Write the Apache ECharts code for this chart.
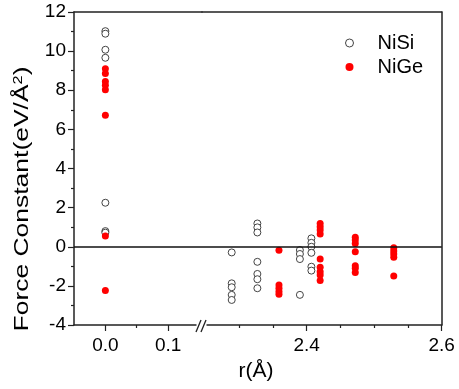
<!DOCTYPE html>
<html>
<head>
<meta charset="utf-8">
<script src="https://cdn.jsdelivr.net/npm/echarts@6/dist/echarts.min.js"></script>
<style>
  html, body { margin: 0; padding: 0; background: #fff; }
  #chart { width: 459px; height: 389px; }
</style>
</head>
<body>
<div id="chart"></div>
<script>
// values
const niSiAtZero = [11.02, 10.89, 10.07, 9.66, 2.25, 0.8, 0.72];
const niGeAtZero = [9.1, 8.85, 8.45, 8.25, 8.03, 6.72, 0.55, -2.24];

const niSiR = [2.289, 2.327, 2.39, 2.407];
const niSiF = [
    [-0.29, -1.87, -2.07, -2.46, -2.72],
    [1.19, 0.99, 0.73, -0.77, -1.39, -1.66, -2.12],
    [-0.17, -0.37, -0.63, -2.46],
    [0.43, 0.2, 0.0, -0.31, -1.02, -1.22]
];
const niGeR = [2.359, 2.42, 2.472, 2.529];
const niGeF = [
    [-0.18, -1.95, -2.12, -2.29, -2.43],
    [1.19, 1.02, 0.85, 0.65, -0.63, -1.05, -1.28, -1.44, -1.73],
    [0.48, 0.34, 0.17, -0.26, -0.97, -1.1, -1.31],
    [-0.05, -0.22, -0.37, -0.54, -1.49]
];

const leftMajor = [0, 0.1];
const leftMinor = [0.05];
const rightMajor = [2.4, 2.6];
const rightMinor = [2.3, 2.35, 2.45, 2.5, 2.55];

const font = 'Liberation Sans, Arial, Helvetica, sans-serif';
const axisColor = '#222';

// build point lists
const toPairs = (rs, fs) => {
    const out = [];
    rs.forEach((r, i) => fs[i].forEach(f => out.push([r, f])));
    return out;
};
const niSiLeft = niSiAtZero.map(f => [0, f]);
const niGeLeft = niGeAtZero.map(f => [0, f]);
const niSiRight = toPairs(niSiR, niSiF);
const niGeRight = toPairs(niGeR, niGeF);

const openStyle = { color: '#fff', borderColor: '#444', borderWidth: 1, opacity: 1 };
const redStyle = { color: '#ff0000', opacity: 1 };

const zeroLine = {
    silent: true,
    symbol: 'none',
    label: { show: false },
    lineStyle: { color: '#111', width: 1.5, type: 'solid' },
    data: [{ yAxis: 0 }]
};

const bottomAxis = (grid, min, max, major) => ({
    type: 'value', gridIndex: grid, min: min, max: max, position: 'bottom',
    axisLine: { show: true, onZero: false, lineStyle: { color: axisColor, width: 1.5 } },
    axisTick: { show: true, inside: false, length: 6, customValues: major,
        lineStyle: { color: axisColor, width: 1.2 } },
    axisLabel: { show: true, customValues: major, formatter: v => v.toFixed(1),
        fontSize: 19, color: '#000', fontFamily: font, margin: 11 },
    splitLine: { show: false }
});
const minorAxis = (grid, min, max, minor) => ({
    type: 'value', gridIndex: grid, min: min, max: max, position: 'bottom',
    axisLine: { show: false, onZero: false },
    axisTick: { show: true, inside: false, length: 3, customValues: minor,
        lineStyle: { color: axisColor, width: 1.2 } },
    axisLabel: { show: false },
    splitLine: { show: false }
});
const topAxis = (grid, min, max) => ({
    type: 'value', gridIndex: grid, min: min, max: max, position: 'top',
    axisLine: { show: true, onZero: false, lineStyle: { color: axisColor, width: 1.5 } },
    axisTick: { show: false }, axisLabel: { show: false }, splitLine: { show: false }
});

const chart = echarts.init(document.getElementById('chart'));
chart.setOption({
    animation: false,
    backgroundColor: '#fff',
    grid: [
        { left: 74, top: 12, width: 128, height: 313 },
        { left: 202, top: 12, width: 239.7, height: 313 }
    ],
    xAxis: [
        bottomAxis(0, -0.05, 0.154, leftMajor),
        minorAxis(0, -0.05, 0.154, leftMinor),
        topAxis(0, -0.05, 0.154),
        bottomAxis(1, 2.245, 2.6, rightMajor),
        minorAxis(1, 2.245, 2.6, rightMinor),
        topAxis(1, 2.245, 2.6)
    ],
    yAxis: [
        {
            type: 'value', gridIndex: 0, min: -4, max: 12, interval: 2,
            axisLine: { show: true, onZero: false, lineStyle: { color: axisColor, width: 1.5 } },
            axisTick: { show: true, inside: false, length: 6, lineStyle: { color: axisColor, width: 1.2 } },
            minorTick: { show: true, splitNumber: 2, length: 3, lineStyle: { color: axisColor, width: 1.2 } },
            axisLabel: { fontSize: 19, color: '#000', fontFamily: font, margin: 8 },
            splitLine: { show: false }
        },
        {
            type: 'value', gridIndex: 1, min: -4, max: 12, interval: 2, position: 'right',
            axisLine: { show: true, onZero: false, lineStyle: { color: axisColor, width: 1.5 } },
            axisTick: { show: false }, axisLabel: { show: false }, splitLine: { show: false }
        }
    ],
    legend: {
        orient: 'vertical',
        left: 345, top: 33, padding: 0,
        itemWidth: 8, itemHeight: 8, itemGap: 4,
        icon: 'circle',
        itemStyle: { borderWidth: 1 },
        textStyle: { fontSize: 20, color: '#000', fontFamily: font, padding: [0, 0, 0, 19] },
        data: ['NiSi', 'NiGe']
    },
    series: [
        { name: 'NiSi', type: 'scatter', xAxisIndex: 0, yAxisIndex: 0, symbolSize: 7,
          itemStyle: openStyle, data: niSiLeft, markLine: zeroLine },
        { name: 'NiSi', type: 'scatter', xAxisIndex: 3, yAxisIndex: 1, symbolSize: 7,
          itemStyle: openStyle, data: niSiRight, markLine: zeroLine },
        { name: 'NiGe', type: 'scatter', xAxisIndex: 0, yAxisIndex: 0, symbolSize: 7,
          itemStyle: redStyle, data: niGeLeft },
        { name: 'NiGe', type: 'scatter', xAxisIndex: 3, yAxisIndex: 1, symbolSize: 7,
          itemStyle: redStyle, data: niGeRight }
    ],
    graphic: [
        // axis break mark
        { type: 'rect', z: 100, shape: { x: 196.5, y: 322, width: 10, height: 6 },
          style: { fill: '#fff' } },
        { type: 'line', z: 101, shape: { x1: 196, y1: 332, x2: 201, y2: 320 },
          style: { stroke: axisColor, lineWidth: 1.3 } },
        { type: 'line', z: 101, shape: { x1: 201, y1: 332, x2: 206, y2: 320 },
          style: { stroke: axisColor, lineWidth: 1.3 } },
        // axis titles
        { type: 'text', z: 101, x: 256, y: 371,
          style: { text: 'r(Å)', fill: '#000', font: '21px ' + font,
                   textAlign: 'center', textVerticalAlign: 'middle' } },
        { type: 'text', z: 101, x: 22, y: 199, rotation: Math.PI / 2, scaleX: 1.26,
          style: { text: 'Force Constant(eV/Å{sup|2})', fill: '#000', font: '21px ' + font,
                   textAlign: 'center', textVerticalAlign: 'middle',
                   rich: { sup: { font: '13px ' + font, fill: '#000', verticalAlign: 'top' } } } }
    ]
});
</script>
</body>
</html>
